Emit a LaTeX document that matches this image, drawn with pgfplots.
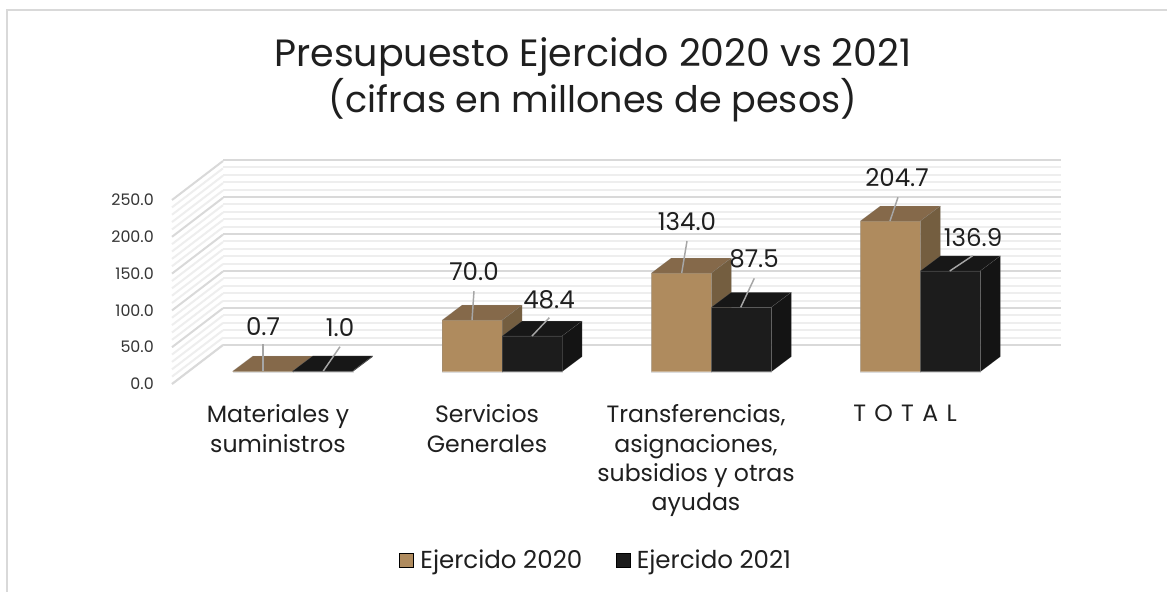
\documentclass[border=0pt]{standalone}
\usepackage{fontspec}
\setmainfont{Poppins}
\usepackage{pgfplots}
\pgfplotsset{compat=1.18}
\definecolor{brF}{HTML}{AF8B5E}
\definecolor{brT}{HTML}{85694A}
\definecolor{brS}{HTML}{745E40}
\definecolor{kF}{HTML}{1C1C1C}
\definecolor{kT}{HTML}{171717}
\definecolor{kS}{HTML}{141414}
\definecolor{gMaj}{HTML}{D9D9D9}
\definecolor{gMin}{HTML}{EEEEEE}
\definecolor{lead}{HTML}{A6A6A6}
\definecolor{txt}{HTML}{1F1F1F}
\definecolor{edgeC}{HTML}{8C8C8C}
\tikzset{face/.style={draw=edgeC,draw opacity=0.3,line width=0.3pt,line join=round}}
\newcommand{\lab}[3]{\node[font=\fontsize{18.4}{20}\selectfont,text=txt,inner sep=0pt] at (axis cs:#1,#2) {#3};}
\begin{document}
\begin{tikzpicture}
\useasboundingbox (0,0) rectangle (875.25pt,444pt);
\fill[white] (0,0) rectangle (875.25pt,444pt);
% back wall
\begin{axis}[at={(167.25pt,185.25pt)},anchor=south west,scale only axis,
  width=628.5pt,height=138.75pt,xmin=0,xmax=1,ymin=0,ymax=250,
  xtick=\empty,ytick={0,50,...,250},minor y tick num=4,yticklabels={},
  axis line style={draw=none},major tick length=0,minor tick length=0,
  ymajorgrids,yminorgrids,
  major grid style={gMaj,line width=1.5pt},minor grid style={gMin,line width=1.5pt}]
\end{axis}
% front scale, side wall, category labels, legend
\begin{axis}[at={(129pt,156pt)},anchor=south west,scale only axis,clip=false,
  width=666.75pt,height=138pt,xmin=172,xmax=1061,ymin=0,ymax=250,
  ytick={0,50,...,250},
  yticklabel style={/pgf/number format/.cd,fixed,fixed zerofill,precision=1,assume math mode=true,/tikz/.cd,
    font=\fontsize{11.9}{14}\selectfont,text=txt!90,inner sep=0pt,xshift=-13.5pt},
  xtick={278,487,696,905},
  xticklabels={{Materiales y\\suministros},{Servicios\\Generales},{Transferencias,\\asignaciones,\\subsidios y otras\\ayudas},{T\hspace{1.5pt} O\hspace{1.5pt} T\hspace{1.5pt} A\hspace{1.5pt} L}},
  xticklabel style={align=center,anchor=north,font=\fontsize{17.7}{22}\selectfont,text=txt,inner sep=0pt,yshift=-15.5pt},
  axis line style={draw=none},major tick length=0,
  legend style={at={(0.4775,-0.9565)},anchor=center,draw=none,fill=none,legend columns=2,
    font=\fontsize{18.4}{20}\selectfont,text=txt,
    /tikz/every even column/.style={column sep=23pt},
    /tikz/every odd column/.style={column sep=3pt}},
  legend image code/.code={\fill[#1] (0pt,-5.25pt) rectangle (10.5pt,5.25pt);},
  legend cell align=left]
\pgfplotsinvokeforeach{0,10,20,30,40,60,70,80,90,110,120,130,140,160,170,180,190,210,220,230,240}{
  \addplot[gMin,line width=1.5pt,forget plot] table[x=x,y expr=\thisrow{d}+#1,row sep=\\]{x d\\172 0\\223 53\\};
}
\pgfplotsinvokeforeach{0,50,100,150,200,250}{
  \addplot[gMaj,line width=1.5pt,forget plot] table[x=x,y expr=\thisrow{d}+#1,row sep=\\]{x d\\172 0\\223 53\\};
}
\addlegendimage{fill=brF}\addlegendentry{Ejercido 2020}
\addlegendimage{fill=kF}\addlegendentry{Ejercido 2021}
\end{axis}
% bars, leaders, data labels, title, frame
\begin{axis}[at={(0pt,0pt)},anchor=south west,scale only axis,clip=false,hide axis,
  width=875.25pt,height=444pt,xmin=0,xmax=1167,ymin=-299.3,ymax=505.05]
\addplot[gMaj,line width=1.3pt] coordinates {(7,-299.3)(7,491.4)(1167,491.4)};
% 2020
\addplot[fill=brT,face] coordinates {(232.7,0.7)(292.7,0.7)(312.7,21.1)(252.7,21.1)} -- cycle;
\addplot[fill=brS,face] coordinates {(292.7,0)(312.7,20.4)(312.7,21.1)(292.7,0.7)} -- cycle;
\addplot[fill=brT,face] coordinates {(442,70)(502,70)(522,90.4)(462,90.4)} -- cycle;
\addplot[fill=brS,face] coordinates {(502,0)(522,20.4)(522,90.4)(502,70)} -- cycle;
\addplot[fill=brT,face] coordinates {(651.3,134)(711.3,134)(731.3,154.4)(671.3,154.4)} -- cycle;
\addplot[fill=brS,face] coordinates {(711.3,0)(731.3,20.4)(731.3,154.4)(711.3,134)} -- cycle;
\addplot[fill=brT,face] coordinates {(860.3,204.7)(920.3,204.7)(940.3,225.1)(880.3,225.1)} -- cycle;
\addplot[fill=brS,face] coordinates {(920.3,0)(940.3,20.4)(940.3,225.1)(920.3,204.7)} -- cycle;
\addplot[ybar,bar width=60,bar shift=0,fill=brF,face] coordinates {(262.7,0.7)(472,70)(681.3,134)(890.3,204.7)};
% 2021
\addplot[fill=kT,face] coordinates {(292.7,1)(352.7,1)(372.7,21.4)(312.7,21.4)} -- cycle;
\addplot[fill=kS,face] coordinates {(352.7,0)(372.7,20.4)(372.7,21.4)(352.7,1)} -- cycle;
\addplot[fill=kT,face] coordinates {(502,48.4)(562,48.4)(582,68.8)(522,68.8)} -- cycle;
\addplot[fill=kS,face] coordinates {(562,0)(582,20.4)(582,68.8)(562,48.4)} -- cycle;
\addplot[fill=kT,face] coordinates {(711.3,87.5)(771.3,87.5)(791.3,107.9)(731.3,107.9)} -- cycle;
\addplot[fill=kS,face] coordinates {(771.3,0)(791.3,20.4)(791.3,107.9)(771.3,87.5)} -- cycle;
\addplot[fill=kT,face] coordinates {(920.3,136.9)(980.3,136.9)(1000.3,157.3)(940.3,157.3)} -- cycle;
\addplot[fill=kS,face] coordinates {(980.3,0)(1000.3,20.4)(1000.3,157.3)(980.3,136.9)} -- cycle;
\addplot[ybar,bar width=60,bar shift=0,fill=kF,face] coordinates {(322.7,1)(532,48.4)(741.3,87.5)(950.3,136.9)};
% leaders
\addplot[lead,line width=1.1pt] coordinates {(263,37.6)(263,1)};
\addplot[lead,line width=1.1pt] coordinates {(340,34)(323.3,1)};
\addplot[lead,line width=1.1pt] coordinates {(474,109.6)(472,70.2)};
\addplot[lead,line width=1.1pt] coordinates {(549.3,73.4)(532,48.5)};
\addplot[lead,line width=1.1pt] coordinates {(687,177.6)(681.7,134.1)};
\addplot[lead,line width=1.1pt] coordinates {(754.3,126.9)(740.7,87.5)};
\addplot[lead,line width=1.1pt] coordinates {(898,237)(890,204.8)};
\addplot[lead,line width=1.1pt] coordinates {(972.7,157.6)(949.7,136.8)};
% labels
\lab{263}{60.7}{0.7}
\lab{340}{59.4}{1.0}
\lab{474}{135.5}{70.0}
\lab{549}{97.4}{48.4}
\lab{687}{203.4}{134.0}
\lab{754}{153.1}{87.5}
\lab{897}{263.2}{204.7}
\lab{973}{181.7}{136.9}
\node[align=center,font=\fontsize{28.5}{34.5}\selectfont,text=txt,inner sep=0pt] at (axis cs:593,396.5)
  {Presupuesto Ejercido 2020 vs 2021\\{\fontsize{27.4}{34.5}\selectfont (cifras en millones de pesos)}};
\end{axis}
\end{tikzpicture}
\end{document}
